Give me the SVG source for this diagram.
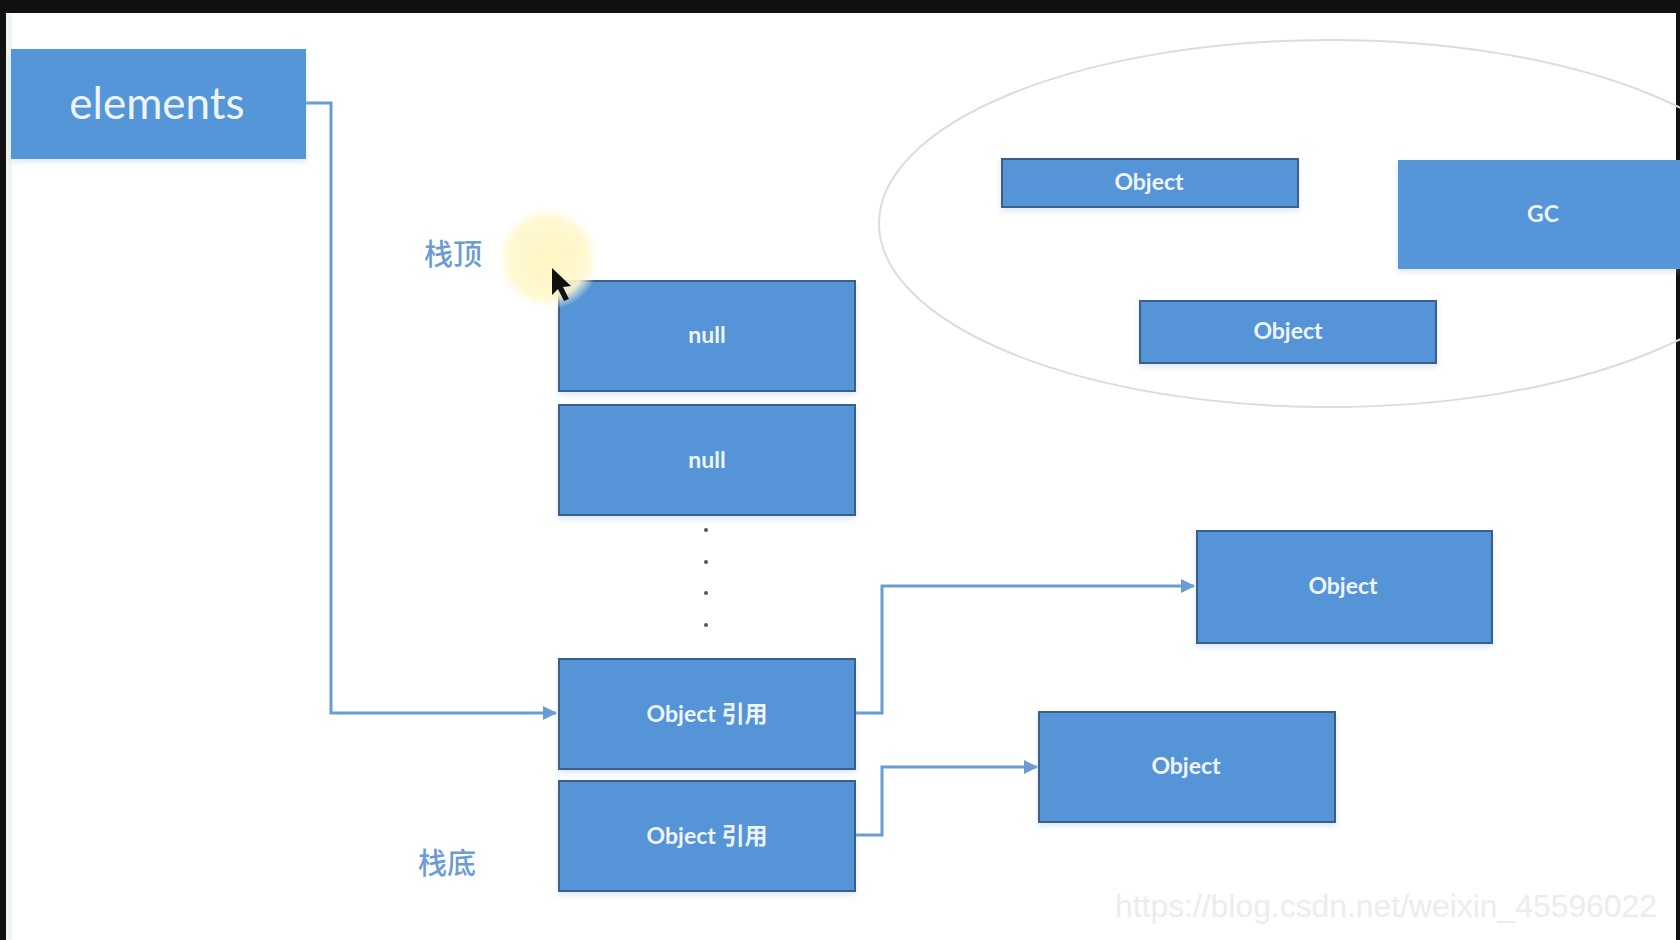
<svg xmlns="http://www.w3.org/2000/svg" width="1680" height="940" viewBox="0 0 1680 940">
  <defs>
    <marker id="arrow" viewBox="0 0 14 14" refX="13" refY="7" markerWidth="14" markerHeight="14" markerUnits="userSpaceOnUse" orient="auto">
      <path d="M0,0 L14,7 L0,14 Z" fill="#6a9bd3"/>
    </marker>
    <radialGradient id="glow" cx="0.5" cy="0.5" r="0.5">
      <stop offset="0" stop-color="#fff6c2" stop-opacity="1"/>
      <stop offset="0.75" stop-color="#fff7cc" stop-opacity="0.9"/>
      <stop offset="1" stop-color="#fffbe6" stop-opacity="0"/>
    </radialGradient>
    <filter id="shadow" x="-10%" y="-10%" width="120%" height="130%">
      <feDropShadow dx="0" dy="3" stdDeviation="3" flood-color="#9db8d8" flood-opacity="0.35"/>
    </filter>
  </defs>
  <style>
    .box { fill: #5494d6; stroke: #3b5f88; stroke-width: 2; filter: url(#shadow); }
    .plain { fill: #5596d8; filter: url(#shadow); }
    .t { font-family: Lato, "Open Sans", "Noto Sans CJK SC", sans-serif; font-weight: bold; fill: #eef4fc; text-anchor: middle; dominant-baseline: central; font-size: 23px; }
    .big { font-weight: normal; font-size: 44px; }
    .lbl { font-family: "Noto Sans CJK SC", sans-serif; font-size: 29px; font-weight: 500; fill: #6d9bd3; text-anchor: middle; }
    .conn { fill: none; stroke: #6a9bd3; stroke-width: 3; }
    .dot { fill: #555555; }
  </style>

  <rect x="0" y="0" width="1680" height="940" fill="#ffffff"/>
  <rect x="0" y="0" width="1680" height="13" fill="#111111"/>
  <rect x="0" y="0" width="6" height="940" fill="#111111"/>
  <rect x="6" y="13" width="6" height="927" fill="#eef7ee"/>
  <rect x="1676" y="0" width="4" height="940" fill="#111111"/>

  <ellipse id="heap" cx="1330" cy="223.5" rx="451" ry="183.5" fill="none" stroke="#dcdcdc" stroke-width="2"/>

  <g id="connectors">
    <path class="conn" d="M305,103 H331 V713 H556" marker-end="url(#arrow)"/>
    <path class="conn" d="M855,713 H882 V586 H1194" marker-end="url(#arrow)"/>
    <path class="conn" d="M855,835 H882 V767 H1037" marker-end="url(#arrow)"/>
  </g>

  <g id="elements">
    <rect class="plain" x="11" y="49" width="295" height="110"/>
    <text class="t big" x="157" y="102">elements</text>
  </g>

  <g id="label-top">
    <text class="lbl" x="453" y="265">栈顶</text>
  </g>
  <g id="label-bottom">
    <text class="lbl" x="447" y="874">栈底</text>
  </g>

  <g id="null1">
    <rect class="box" x="559" y="281" width="296" height="110"/>
    <text class="t" x="707" y="334">null</text>
  </g>
  <g id="null2">
    <rect class="box" x="559" y="405" width="296" height="110"/>
    <text class="t" x="707" y="459">null</text>
  </g>

  <g id="dots">
    <circle class="dot" cx="706" cy="530" r="2"/>
    <circle class="dot" cx="706" cy="562" r="2"/>
    <circle class="dot" cx="706" cy="593" r="2"/>
    <circle class="dot" cx="706" cy="625" r="2"/>
  </g>

  <g id="ref1">
    <rect class="box" x="559" y="659" width="296" height="110"/>
    <text class="t" x="707" y="713">Object 引用</text>
  </g>
  <g id="ref2">
    <rect class="box" x="559" y="781" width="296" height="110"/>
    <text class="t" x="707" y="835">Object 引用</text>
  </g>

  <g id="obj-right">
    <rect class="box" x="1197" y="531" width="295" height="112"/>
    <text class="t" x="1343" y="585">Object</text>
  </g>
  <g id="obj-lower">
    <rect class="box" x="1039" y="712" width="296" height="110"/>
    <text class="t" x="1186" y="765">Object</text>
  </g>

  <g id="obj-heap-top">
    <rect class="box" x="1002" y="159" width="296" height="48"/>
    <text class="t" x="1149" y="181">Object</text>
  </g>
  <g id="obj-heap-mid">
    <rect class="box" x="1140" y="301" width="296" height="62"/>
    <text class="t" x="1288" y="330">Object</text>
  </g>
  <g id="gc">
    <rect class="plain" x="1398" y="160" width="282" height="109"/>
    <text class="t" x="1543" y="213">GC</text>
  </g>

  <g id="cursor">
    <circle cx="548" cy="258" r="52" fill="url(#glow)"/>
    <path d="M552,268 L552,295 L558,289 L564,301 L569,299 L563,287 L571,286 Z" fill="#111111"/>
  </g>

  <text x="1115" y="917" font-family="Liberation Sans, Arial, sans-serif" font-size="31" fill="#ececec" textLength="542" lengthAdjust="spacingAndGlyphs">https://blog.csdn.net/weixin_45596022</text>
</svg>
